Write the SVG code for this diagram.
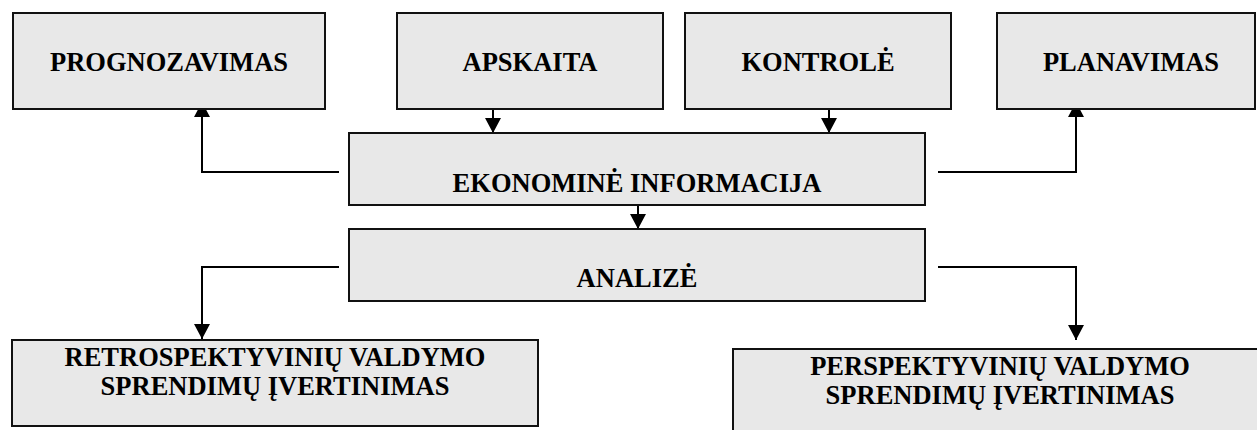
<svg xmlns="http://www.w3.org/2000/svg" width="1257" height="430" viewBox="0 0 1257 430">
  <style>
    .box { fill: #e8e8e8; stroke: #111; stroke-width: 2; }
    .lbl { font-family: "Liberation Serif", "Times New Roman", serif; font-weight: bold; font-size: 26.5px; fill: #000; text-anchor: middle; }
    .conn { fill: none; stroke: #000; stroke-width: 2; }
  </style>
  <defs>
    <marker id="arr" markerUnits="userSpaceOnUse" markerWidth="15" markerHeight="16" refX="15" refY="8" orient="auto">
      <path d="M0,0 L15,8 L0,16 z" fill="#000"/>
    </marker>
  </defs>
  <rect x="0" y="0" width="1257" height="430" fill="#fff"/>

  <g id="connectors">
    <path class="conn" d="M493,109 V133" marker-end="url(#arr)"/>
    <path class="conn" d="M829,109 V133" marker-end="url(#arr)"/>
    <path class="conn" d="M638,205 V229" marker-end="url(#arr)"/>
    <path class="conn" d="M339,172 H202 V102" marker-end="url(#arr)"/>
    <path class="conn" d="M938,172 H1076 V102" marker-end="url(#arr)"/>
    <path class="conn" d="M339,267 H202 V339" marker-end="url(#arr)"/>
    <path class="conn" d="M938,267 H1076 V340" marker-end="url(#arr)"/>
  </g>

  <g id="prognozavimas">
    <rect class="box" x="13" y="13" width="312" height="96"/>
    <text class="lbl" x="169" y="71">PROGNOZAVIMAS</text>
  </g>
  <g id="apskaita">
    <rect class="box" x="397" y="13" width="266" height="96"/>
    <text class="lbl" x="530" y="71">APSKAITA</text>
  </g>
  <g id="kontrole">
    <rect class="box" x="685" y="13" width="266" height="96"/>
    <text class="lbl" x="818" y="71">KONTROLĖ</text>
  </g>
  <g id="planavimas">
    <rect class="box" x="997" y="13" width="258" height="96"/>
    <text class="lbl" x="1131" y="71">PLANAVIMAS</text>
  </g>
  <g id="ekonomine-informacija">
    <rect class="box" x="349" y="133" width="576" height="72"/>
    <text class="lbl" x="637" y="192">EKONOMINĖ INFORMACIJA</text>
  </g>
  <g id="analize">
    <rect class="box" x="349" y="229" width="576" height="72"/>
    <text class="lbl" x="637" y="287">ANALIZĖ</text>
  </g>
  <g id="retrospektyviniu">
    <rect class="box" x="12" y="340" width="526" height="86"/>
    <text class="lbl" x="275" y="366">RETROSPEKTYVINIŲ VALDYMO</text>
    <text class="lbl" x="275" y="395">SPRENDIMŲ ĮVERTINIMAS</text>
  </g>
  <g id="perspektyviniu">
    <rect class="box" x="733" y="349" width="540" height="100"/>
    <text class="lbl" x="1000" y="375">PERSPEKTYVINIŲ VALDYMO</text>
    <text class="lbl" x="1000" y="404">SPRENDIMŲ ĮVERTINIMAS</text>
  </g>
</svg>
